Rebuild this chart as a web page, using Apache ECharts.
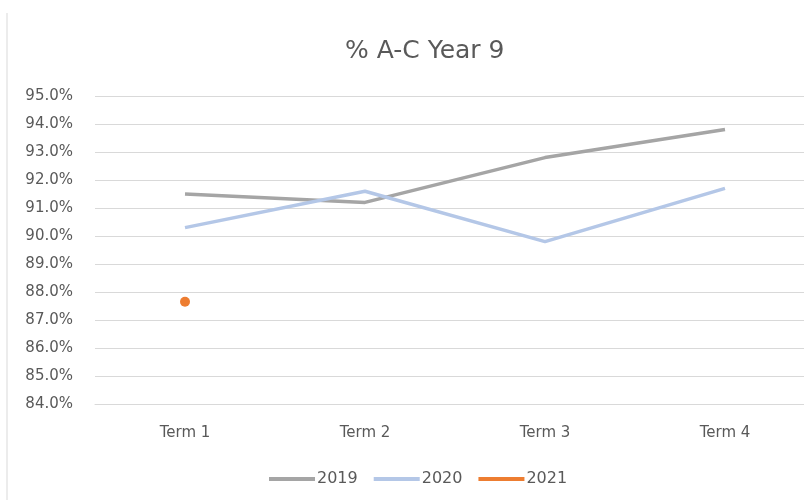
<!DOCTYPE html>
<html>
<head>
<meta charset="utf-8">
<script src="https://cdn.jsdelivr.net/npm/echarts@6/dist/echarts.min.js"></script>
<style>
  html, body { margin: 0; padding: 0; background: #fff; }
  #main { width: 804px; height: 500px; }
</style>
</head>
<body>
<div id="main"></div>
<script>
// data
var terms = ['Term 1', 'Term 2', 'Term 3', 'Term 4'];
var y2019 = [91.5, 91.2, 92.8, 93.8];
var y2020 = [90.3, 91.6, 89.8, 91.7];
var y2021 = [87.65, null, null, null];

var txt = '#595959';
var font = 'DejaVu Sans';

var chart = echarts.init(document.getElementById('main'));

var option = {
  animation: false,
  title: {
    text: '% A-C Year 9',
    left: 340,
    top: 34,
    textStyle: { color: txt, fontFamily: font, fontSize: 25, fontWeight: 'normal' }
  },
  legend: {
    top: 466,
    left: 264,
    itemWidth: 46,
    itemHeight: 4,
    itemGap: 16,
    icon: 'rect',
    textStyle: { color: txt, fontFamily: font, fontSize: 16, padding: [0, 0, 0, -3] },
    data: ['2019', '2020', '2021']
  },
  // plot runs past the right edge in the reference
  grid: { left: 95, width: 720, top: 96, bottom: 96, outerBoundsMode: 'none' },
  xAxis: {
    type: 'category',
    data: terms,
    axisLine: { lineStyle: { color: '#d9d9d9' } },
    axisTick: { show: false },
    axisLabel: { color: txt, fontFamily: font, fontSize: 15, margin: 22 }
  },
  yAxis: {
    type: 'value',
    min: 84,
    max: 95,
    interval: 1,
    axisLine: { show: false },
    axisTick: { show: false },
    splitLine: { lineStyle: { color: '#d9d9d9' } },
    axisLabel: {
      color: txt, fontFamily: font, fontSize: 15, margin: 22,
      formatter: function (v) { return v.toFixed(1) + '%'; }
    }
  },
  graphic: [{
    type: 'line',
    shape: { x1: 7, y1: 13, x2: 7, y2: 500 },
    style: { stroke: '#d9d9d9', lineWidth: 1 }
  }],
  series: [
    {
      name: '2019', type: 'line', data: y2019,
      showSymbol: false, symbol: 'none',
      itemStyle: { color: '#a5a5a5' },
      lineStyle: { color: '#a5a5a5', width: 3.5 }
    },
    {
      name: '2020', type: 'line', data: y2020,
      showSymbol: false, symbol: 'none',
      itemStyle: { color: '#b4c7e7' },
      lineStyle: { color: '#b4c7e7', width: 3.5 }
    },
    {
      name: '2021', type: 'line', data: y2021,
      symbol: 'circle', symbolSize: 10, showSymbol: true,
      itemStyle: { color: '#ed7d31' },
      lineStyle: { color: '#ed7d31', width: 3.5 }
    }
  ]
};

chart.setOption(option);
</script>
</body>
</html>
